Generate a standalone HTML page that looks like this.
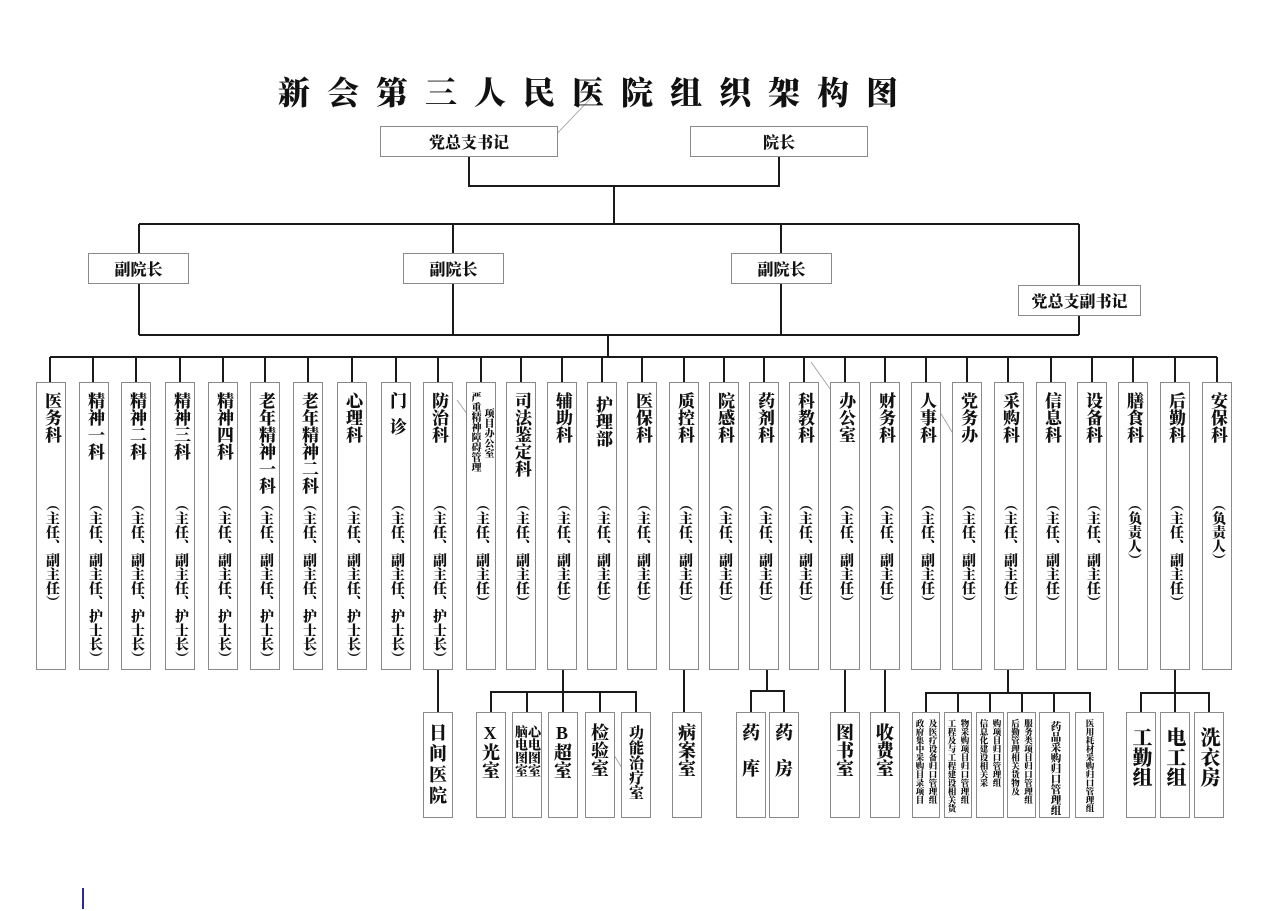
<!DOCTYPE html>
<html><head><meta charset="utf-8">
<style>
html,body{margin:0;padding:0;background:#fff;}
body{width:1268px;height:911px;position:relative;overflow:hidden;font-family:"Liberation Serif","Noto Serif CJK SC","Noto Sans CJK SC",serif;font-weight:900;color:#111;}
.b{position:absolute;border:1px solid #8a8a8a;box-sizing:border-box;background:#fff;}
.h{display:flex;align-items:center;justify-content:center;font-size:16px;}
.v{position:absolute;writing-mode:vertical-rl;text-orientation:upright;width:30px;line-height:30px;text-align:left;}
.n{font-size:17px;top:392px;}
.s{font-size:14px;top:497px;}
.sb{display:flex;justify-content:center;align-items:flex-start;gap:2px;padding-top:6px;}
.sb div{writing-mode:vertical-rl;text-orientation:upright;font-size:8.5px;line-height:11px;height:96px;}
.bv{writing-mode:vertical-rl;text-orientation:upright;line-height:30px;font-size:18px;padding-top:10px;text-align:left;}
</style></head><body>
<svg width="1268" height="911" style="position:absolute;left:0;top:0" xmlns="http://www.w3.org/2000/svg">
<g stroke="#1a1a1a" stroke-width="2" fill="none">
<polyline points="469,156 469,186 779,186 779,156"/>
<line x1="614" y1="186" x2="614" y2="224"/>
<line x1="139" y1="224" x2="1079" y2="224"/>
<line x1="139" y1="224" x2="139" y2="335"/>
<line x1="453" y1="224" x2="453" y2="335"/>
<line x1="781" y1="224" x2="781" y2="335"/>
<line x1="1079" y1="224" x2="1079" y2="335"/>
<line x1="139" y1="335" x2="1079" y2="335"/>
<line x1="608" y1="335" x2="608" y2="357"/>
<line x1="50" y1="357" x2="1217" y2="357"/>
<line x1="50" y1="357" x2="50" y2="382"/><line x1="93" y1="357" x2="93" y2="382"/><line x1="136" y1="357" x2="136" y2="382"/><line x1="180" y1="357" x2="180" y2="382"/><line x1="223" y1="357" x2="223" y2="382"/><line x1="265" y1="357" x2="265" y2="382"/><line x1="308" y1="357" x2="308" y2="382"/><line x1="352" y1="357" x2="352" y2="382"/><line x1="396" y1="357" x2="396" y2="382"/><line x1="438" y1="357" x2="438" y2="382"/><line x1="481" y1="357" x2="481" y2="382"/><line x1="521" y1="357" x2="521" y2="382"/><line x1="562" y1="357" x2="562" y2="382"/><line x1="602" y1="357" x2="602" y2="382"/><line x1="642" y1="357" x2="642" y2="382"/><line x1="684" y1="357" x2="684" y2="382"/><line x1="724" y1="357" x2="724" y2="382"/><line x1="764" y1="357" x2="764" y2="382"/><line x1="804" y1="357" x2="804" y2="382"/><line x1="845" y1="357" x2="845" y2="382"/><line x1="885" y1="357" x2="885" y2="382"/><line x1="926" y1="357" x2="926" y2="382"/><line x1="967" y1="357" x2="967" y2="382"/><line x1="1008" y1="357" x2="1008" y2="382"/><line x1="1051" y1="357" x2="1051" y2="382"/><line x1="1092" y1="357" x2="1092" y2="382"/><line x1="1133" y1="357" x2="1133" y2="382"/><line x1="1175" y1="357" x2="1175" y2="382"/><line x1="1217" y1="357" x2="1217" y2="382"/>
<line x1="438" y1="669" x2="438" y2="712"/>
<line x1="563" y1="669" x2="563" y2="692"/>
<polyline points="491,712 491,692 636,692 636,712"/>
<line x1="527" y1="692" x2="527" y2="712"/><line x1="563" y1="692" x2="563" y2="712"/><line x1="600" y1="692" x2="600" y2="712"/>
<line x1="684" y1="669" x2="684" y2="712"/>
<line x1="767" y1="669" x2="767" y2="691"/>
<polyline points="751,712 751,691 784,691 784,712"/>
<line x1="845" y1="669" x2="845" y2="712"/>
<line x1="885" y1="669" x2="885" y2="712"/>
<line x1="1008" y1="669" x2="1008" y2="693"/>
<polyline points="926,712 926,693 1090,693 1090,712"/>
<line x1="958" y1="693" x2="958" y2="712"/><line x1="990" y1="693" x2="990" y2="712"/><line x1="1022" y1="693" x2="1022" y2="712"/><line x1="1054" y1="693" x2="1054" y2="712"/>
<line x1="1175" y1="669" x2="1175" y2="693"/>
<polyline points="1141,712 1141,693 1209,693 1209,712"/>
<line x1="1175" y1="693" x2="1175" y2="712"/>
</g>
<g stroke="#999" stroke-width="0.8">
<line x1="593" y1="96" x2="549" y2="142"/>
<line x1="811" y1="362" x2="838" y2="400"/>
<line x1="935" y1="404" x2="960" y2="445"/>
<line x1="457" y1="400" x2="470" y2="418"/>
<line x1="605" y1="740" x2="632" y2="785"/>
</g>
<line x1="83" y1="888" x2="83" y2="909" stroke="#2a2a9a" stroke-width="2"/>
</svg>

<div style="position:absolute;left:278px;top:68px;font-size:32px;letter-spacing:17px;white-space:nowrap;font-family:'Noto Serif CJK SC',serif;font-weight:900;">新会第三人民医院组织架构图</div>

<div class="b h" style="left:380px;top:126px;width:178px;height:31px;">党总支书记</div>
<div class="b h" style="left:690px;top:126px;width:178px;height:31px;">院长</div>
<div class="b h" style="left:88px;top:253px;width:101px;height:31px;">副院长</div>
<div class="b h" style="left:403px;top:253px;width:101px;height:31px;">副院长</div>
<div class="b h" style="left:731px;top:253px;width:101px;height:31px;">副院长</div>
<div class="b h" style="left:1018px;top:285px;width:123px;height:31px;">党总支副书记</div>

<div class="b" style="left:36px;top:382px;width:30px;height:288px"></div>
<div class="b" style="left:79px;top:382px;width:30px;height:288px"></div>
<div class="b" style="left:121px;top:382px;width:30px;height:288px"></div>
<div class="b" style="left:165px;top:382px;width:30px;height:288px"></div>
<div class="b" style="left:208px;top:382px;width:30px;height:288px"></div>
<div class="b" style="left:250px;top:382px;width:30px;height:288px"></div>
<div class="b" style="left:293px;top:382px;width:30px;height:288px"></div>
<div class="b" style="left:337px;top:382px;width:30px;height:288px"></div>
<div class="b" style="left:381px;top:382px;width:30px;height:288px"></div>
<div class="b" style="left:423px;top:382px;width:30px;height:288px"></div>
<div class="b" style="left:466px;top:382px;width:30px;height:288px"></div>
<div class="b" style="left:506px;top:382px;width:30px;height:288px"></div>
<div class="b" style="left:547px;top:382px;width:30px;height:288px"></div>
<div class="b" style="left:587px;top:382px;width:30px;height:288px"></div>
<div class="b" style="left:627px;top:382px;width:30px;height:288px"></div>
<div class="b" style="left:669px;top:382px;width:30px;height:288px"></div>
<div class="b" style="left:709px;top:382px;width:30px;height:288px"></div>
<div class="b" style="left:749px;top:382px;width:30px;height:288px"></div>
<div class="b" style="left:789px;top:382px;width:30px;height:288px"></div>
<div class="b" style="left:830px;top:382px;width:30px;height:288px"></div>
<div class="b" style="left:870px;top:382px;width:30px;height:288px"></div>
<div class="b" style="left:911px;top:382px;width:30px;height:288px"></div>
<div class="b" style="left:952px;top:382px;width:30px;height:288px"></div>
<div class="b" style="left:994px;top:382px;width:30px;height:288px"></div>
<div class="b" style="left:1036px;top:382px;width:30px;height:288px"></div>
<div class="b" style="left:1077px;top:382px;width:30px;height:288px"></div>
<div class="b" style="left:1118px;top:382px;width:30px;height:288px"></div>
<div class="b" style="left:1160px;top:382px;width:30px;height:288px"></div>
<div class="b" style="left:1202px;top:382px;width:30px;height:288px"></div>

<div class="v n" style="left:36px">医务科</div><div class="v s" style="left:36px">（主任、副主任）</div>
<div class="v n" style="left:79px">精神一科</div><div class="v s" style="left:79px">（主任、副主任、护士长）</div>
<div class="v n" style="left:121px">精神二科</div><div class="v s" style="left:121px">（主任、副主任、护士长）</div>
<div class="v n" style="left:165px">精神三科</div><div class="v s" style="left:165px">（主任、副主任、护士长）</div>
<div class="v n" style="left:208px">精神四科</div><div class="v s" style="left:208px">（主任、副主任、护士长）</div>
<div class="v n" style="left:250px">老年精神一科</div><div class="v s" style="left:250px">（主任、副主任、护士长）</div>
<div class="v n" style="left:293px">老年精神二科</div><div class="v s" style="left:293px">（主任、副主任、护士长）</div>
<div class="v n" style="left:337px">心理科</div><div class="v s" style="left:337px">（主任、副主任、护士长）</div>
<div class="v n" style="left:381px;letter-spacing:9px">门诊</div><div class="v s" style="left:381px">（主任、副主任、护士长）</div>
<div class="v n" style="left:423px">防治科</div><div class="v s" style="left:423px">（主任、副主任、护士长）</div>
<div style="position:absolute;left:468px;top:392px;writing-mode:vertical-rl;text-orientation:upright;font-size:10px;line-height:13px;height:100px;">严重精神障碍管理</div>
<div style="position:absolute;left:481px;top:408px;writing-mode:vertical-rl;text-orientation:upright;font-size:10px;line-height:13px;height:80px;">项目办公室</div>
<div class="v s" style="left:466px">（主任、副主任）</div>
<div class="v n" style="left:506px">司法鉴定科</div><div class="v s" style="left:506px">（主任、副主任）</div>
<div class="v n" style="left:547px">辅助科</div><div class="v s" style="left:547px">（主任、副主任）</div>
<div class="v n" style="left:587px;top:396px">护理部</div><div class="v s" style="left:587px">（主任、副主任）</div>
<div class="v n" style="left:627px">医保科</div><div class="v s" style="left:627px">（主任、副主任）</div>
<div class="v n" style="left:669px">质控科</div><div class="v s" style="left:669px">（主任、副主任）</div>
<div class="v n" style="left:709px">院感科</div><div class="v s" style="left:709px">（主任、副主任）</div>
<div class="v n" style="left:749px">药剂科</div><div class="v s" style="left:749px">（主任、副主任）</div>
<div class="v n" style="left:789px">科教科</div><div class="v s" style="left:789px">（主任、副主任）</div>
<div class="v n" style="left:830px">办公室</div><div class="v s" style="left:830px">（主任、副主任）</div>
<div class="v n" style="left:870px">财务科</div><div class="v s" style="left:870px">（主任、副主任）</div>
<div class="v n" style="left:911px">人事科</div><div class="v s" style="left:911px">（主任、副主任）</div>
<div class="v n" style="left:952px">党务办</div><div class="v s" style="left:952px">（主任、副主任）</div>
<div class="v n" style="left:994px">采购科</div><div class="v s" style="left:994px">（主任、副主任）</div>
<div class="v n" style="left:1036px">信息科</div><div class="v s" style="left:1036px">（主任、副主任）</div>
<div class="v n" style="left:1077px">设备科</div><div class="v s" style="left:1077px">（主任、副主任）</div>
<div class="v n" style="left:1118px">膳食科</div><div class="v s" style="left:1118px">（负责人）</div>
<div class="v n" style="left:1160px">后勤科</div><div class="v s" style="left:1160px">（主任、副主任）</div>
<div class="v n" style="left:1202px">安保科</div><div class="v s" style="left:1202px">（负责人）</div>

<div class="b bv" style="left:423px;top:712px;width:30px;height:106px;letter-spacing:3px;">日间医院</div>
<div class="b bv" style="left:476px;top:712px;width:30px;height:106px;">X光室</div>
<div class="b" style="left:512px;top:712px;width:30px;height:106px;display:flex;justify-content:center;padding-top:12px;"><div style="writing-mode:vertical-rl;text-orientation:upright;font-size:13px;line-height:13px;height:56px;">心电图室脑电图室</div></div>
<div class="b bv" style="left:548px;top:712px;width:30px;height:106px;">B超室</div>
<div class="b bv" style="left:585px;top:712px;width:30px;height:106px;">检验室</div>
<div class="b bv" style="left:621px;top:712px;width:30px;height:106px;font-size:15px;padding-top:12px;">功能治疗室</div>
<div class="b bv" style="left:672px;top:712px;width:30px;height:106px;">病案室</div>
<div class="b bv" style="left:736px;top:712px;width:30px;height:106px;">药　库</div>
<div class="b bv" style="left:769px;top:712px;width:30px;height:106px;">药　房</div>
<div class="b bv" style="left:830px;top:712px;width:30px;height:106px;">图书室</div>
<div class="b bv" style="left:870px;top:712px;width:30px;height:106px;">收费室</div>

<div class="b sb" style="left:912px;top:712px;width:28px;height:106px;"><div>政府集中采购目录项目</div><div>及医疗设备归口管理组</div></div>
<div class="b sb" style="left:944px;top:712px;width:28px;height:106px;"><div>工程及与工程建设相关货</div><div>物采购项目归口管理组</div></div>
<div class="b sb" style="left:976px;top:712px;width:28px;height:106px;"><div>信息化建设相关采</div><div>购项目归口管理组</div></div>
<div class="b sb" style="left:1007px;top:712px;width:29px;height:106px;"><div>后勤管理相关货物及</div><div>服务类项目归口管理组</div></div>
<div class="b" style="left:1039px;top:712px;width:31px;height:106px;display:flex;justify-content:center;padding-top:8px;"><div style="writing-mode:vertical-rl;text-orientation:upright;font-size:10.5px;line-height:14px;height:96px;">药品采购归口管理组</div></div>
<div class="b sb" style="left:1075px;top:712px;width:29px;height:106px;padding-top:6px;"><div style="height:98px">医用耗材采购归口管理组</div></div>

<div class="b bv" style="left:1126px;top:712px;width:30px;height:106px;font-size:20px;padding-top:14px;">工勤组</div>
<div class="b bv" style="left:1160px;top:712px;width:30px;height:106px;font-size:20px;padding-top:14px;">电工组</div>
<div class="b bv" style="left:1194px;top:712px;width:30px;height:106px;font-size:20px;padding-top:14px;">洗衣房</div>
</body></html>
